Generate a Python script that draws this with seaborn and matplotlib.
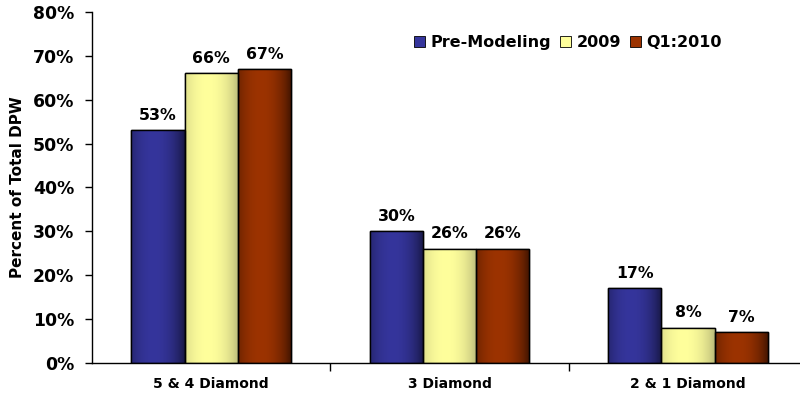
import numpy as np
import pandas as pd
import matplotlib
matplotlib.use('Agg')
import matplotlib.pyplot as plt
from matplotlib.patches import Rectangle
from matplotlib.ticker import FixedLocator, PercentFormatter
import seaborn as sns

categories = ['5 & 4 Diamond', '3 Diamond', '2 & 1 Diamond']
series = ['Pre-Modeling', '2009', 'Q1:2010']
pre_modeling = [53, 30, 17]
y2009 = [66, 26, 8]
q1_2010 = [67, 26, 7]
ylabel = 'Percent of Total DPW'

# center (light) and edge (dark) colours per series
light = {'Pre-Modeling': '#35359c', '2009': '#ffff9c', 'Q1:2010': '#9c3300'}
dark = {'Pre-Modeling': '#161640', '2009': '#b8b878', 'Q1:2010': '#3a1200'}

df = pd.DataFrame({
    'cat': categories * 3,
    'series': [s for s in series for _ in categories],
    'val': pre_modeling + y2009 + q1_2010,
})

sns.set_theme(style='white')
plt.rcParams['font.family'] = ['DejaVu Sans']
plt.rcParams['font.weight'] = 'bold'
for k in ['text.color', 'axes.labelcolor', 'xtick.color', 'ytick.color']:
    plt.rcParams[k] = 'black'

fig = plt.figure(figsize=(8, 3.98), dpi=100)
ax = fig.add_axes([0.115, 0.088, 0.894, 0.882])
sns.barplot(data=df, x='cat', y='val', hue='series', palette=light,
            width=0.67, gap=0, edgecolor='black', linewidth=1, ax=ax,
            legend=False)


def gradient(c1, c2, n=64):
    t = np.linspace(0, 1, n)
    f = 1 - ((t - 0.42) / 0.58) ** 2
    f = np.clip(f, 0, 1) ** 0.8
    a = np.array(matplotlib.colors.to_rgb(c2))
    b = np.array(matplotlib.colors.to_rgb(c1))
    return (a[None, :] + (b - a)[None, :] * f[:, None])[None, :, :]


for s, cont in zip(series, ax.containers):
    g = gradient(light[s], dark[s])
    for p in cont.patches:
        x0, w, h = p.get_x(), p.get_width(), p.get_height()
        im = ax.imshow(g, extent=[x0, x0 + w, 0, h], aspect='auto',
                       zorder=2, interpolation='bilinear')
        im.set_clip_path(p)
        ax.add_patch(Rectangle((x0, 0), w, h, fill=False, edgecolor='black',
                               linewidth=1, zorder=3))
        ax.text(x0 + w / 2, h + 1.7, f'{int(round(h))}%', ha='center',
                va='bottom', fontsize=11.3, fontweight='bold', zorder=4)

ax.set_xlim(-0.5, 2.5)
ax.set_ylim(0, 80)
ax.set_yticks(range(0, 81, 10))
ax.yaxis.set_major_formatter(PercentFormatter(decimals=0))
ax.tick_params(axis='y', which='major', left=True, length=5, width=1,
               color='black', labelsize=12.4, pad=8)
ax.tick_params(axis='x', which='major', bottom=False, length=0,
               labelsize=10, pad=10)
ax.xaxis.set_minor_locator(FixedLocator([0.5, 1.5]))
ax.tick_params(axis='x', which='minor', bottom=True, length=6, width=1,
               color='black')
for lbl in ax.get_xticklabels() + ax.get_yticklabels():
    lbl.set_fontweight('bold')
ax.set_xlabel('')
ax.set_ylabel(ylabel, fontsize=11, fontweight='bold')
ax.yaxis.set_label_coords(-0.094, 0.5)
for side in ['top', 'right']:
    ax.spines[side].set_visible(False)
for side in ['left', 'bottom']:
    ax.spines[side].set_color('black')
    ax.spines[side].set_linewidth(1)

handles = [Rectangle((0, 0), 1, 1, facecolor=light[s], edgecolor='black',
                     linewidth=0.6) for s in series]
ax.legend(handles, series, loc='upper left', bbox_to_anchor=(0.43, 0.975),
          ncol=3, frameon=False, handlelength=0.72, handleheight=0.72,
          handletextpad=0.32, columnspacing=0.55,
          prop={'size': 11.5, 'weight': 'bold'})

fig.savefig('out.png', dpi=100)
